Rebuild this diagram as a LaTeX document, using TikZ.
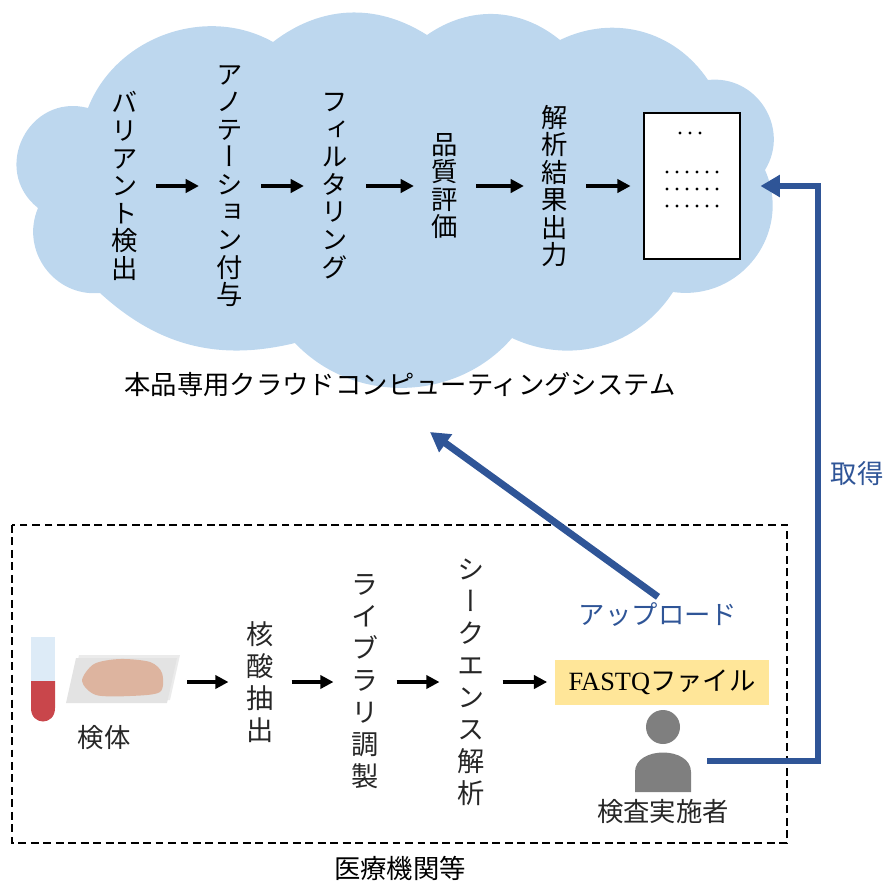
\documentclass[tikz,border=0pt]{standalone}
\usepackage{fontspec}
\setmainfont{Liberation Serif}
\newfontfamily\jp{Noto Sans CJK JP}
\newfontfamily\jpv[RawFeature=+vert]{Noto Sans CJK JP}
\usetikzlibrary{arrows.meta}

\definecolor{cloudblue}{HTML}{BDD7EE}
\definecolor{upblue}{HTML}{2F5597}
\definecolor{fastqyellow}{HTML}{FFE699}
\definecolor{tubeblue}{HTML}{DDEBF7}
\definecolor{tubered}{HTML}{C9464B}
\definecolor{slidegray}{HTML}{E3E3E3}
\definecolor{tissue}{HTML}{DDB49F}
\definecolor{persongray}{HTML}{7F7F7F}
\definecolor{textgray}{HTML}{262626}

\tikzset{
  tate/.style={font=\jpv\fontsize{15}{15.7}\selectfont, align=center, inner xsep=10pt, inner ysep=0pt},
  tatebig/.style={tate, font=\jpv\fontsize{15.5}{18.2}\selectfont, text=textgray},
  yoko/.style={font=\jp\fontsize{15}{18}\selectfont},
  flow/.style={line width=2pt, ->},
  bluearrow/.style={draw=upblue, >={Triangle[length=11pt,width=12pt]}, ->},
}

\begin{document}
\begin{tikzpicture}[x=0.02cm, y=-0.02cm, >={Triangle[length=7.5pt,width=7.5pt]}]
\useasboundingbox (0,0) rectangle (885,886);

% cloud
\fill[cloudblue] (88,108) to[bend left=49] (273,42) to[bend left=35] (427,35)
  to[bend left=37] (560,40) to[bend left=41] (708,80)
  to[bend left=64, looseness=1.18] (765,170) to[bend left=61, looseness=1.15] (673,292)
  to[bend left=41] (512,338) to[bend left=48] (295,343) to[bend left=28] (100,293)
  to[bend left=59, looseness=1.12] (38,208) to[bend left=78, looseness=1.4] (88,108) -- cycle;

\node[tate] (variant) at (125,186) {バ\\リ\\ア\\ン\\ト\\検\\出};
\node[tate] (annot) at (230,186) {ア\\ノ\\テ\\ー\\シ\\ョ\\ン\\付\\与};
\node[tate] (filter) at (335,186) {フ\\ィ\\ル\\タ\\リ\\ン\\グ};
\node[tate] (quality) at (445,186) {品\\質\\評\\価};
\node[tate] (result) at (555,186) {解\\析\\結\\果\\出\\力};
\node[draw, fill=white, line width=1.3pt, minimum width=1.92cm, minimum height=2.92cm, inner sep=0pt] (report) at (692,186) {};
\foreach \x in {680,690,700}
  \fill (\x,133) circle[radius=1.6];
\foreach \y in {172,189,206}{
  \foreach \x in {667,677,...,717}{
    \fill (\x,\y) circle[radius=1.6];
  }
}

\draw[flow] (variant) -- (annot);
\draw[flow] (annot) -- (filter);
\draw[flow] (filter) -- (quality);
\draw[flow] (quality) -- (result);
\draw[flow, shorten >=7pt] (result) -- (report);

\node[yoko] (cloudname) at (400,385) {本品専用クラウドコンピューティングシステム};

% facility
\draw[line width=1.2pt, dash pattern=on 4.5pt off 2.6pt] (12,525) rectangle (787,843);
\node[yoko] (clinic) at (400,868) {医療機関等};

% specimen
\fill[tubeblue] (31,637) rectangle (55,681);
\fill[tubered] (31,681) -- (31,708) .. controls (31,726) and (55,726) .. (55,708) -- (55,681) -- cycle;
\fill[slidegray!70] (79,655) -- (180,655) -- (170,700) -- (69,700) -- cycle;
\fill[slidegray] (76,658) -- (177,658) -- (167,703) -- (66,703) -- cycle;
\fill[tissue] plot[smooth cycle] coordinates {(82,681) (94,664) (120,659) (150,662) (162,673) (160,692) (130,696) (96,695)};
\node[yoko, text=textgray] (specimen) at (104,738) {検体};
\coordinate (slide) at (187,682);

\node[tatebig] (dna) at (260,682) {核\\酸\\抽\\出};
\node[tatebig] (library) at (365,682) {ラ\\イ\\ブ\\ラ\\リ\\調\\製};
\node[tatebig] (seq) at (471,682) {シ\\ー\\ク\\エ\\ン\\ス\\解\\析};
\node[fill=fastqyellow, minimum width=4.3cm, minimum height=0.9cm, font=\fontsize{15}{18}\selectfont] (fastq) at (662,682) {FASTQ{\jp ファイル}};

\draw[flow] (slide) -- (dna);
\draw[flow] (dna) -- (library);
\draw[flow] (library) -- (seq);
\draw[flow, shorten >=4pt] (seq) -- (fastq);

% operator
\fill[persongray] (663,727) circle[radius=17];
\fill[persongray] (635,792) -- (635,772) .. controls (635,746) and (691,746) .. (691,772) -- (691,792) -- cycle;
\node[yoko, text=textgray] (tester) at (663,812) {検査実施者};
\coordinate (staff) at (707,761);
\coordinate (rail) at (818,761);

\node[yoko, text=upblue] (upload) at (658,615) {アップロード};
\coordinate (cloudin) at (430,432);
\draw[bluearrow, line width=4pt] (upload.north) -- (cloudin);

\draw[bluearrow, line width=3.2pt, shorten >=11pt] (staff) -- (rail) |- (report.east);
\node[yoko, text=upblue] (fetch) at (857,474) {取得};
\end{tikzpicture}
\end{document}
